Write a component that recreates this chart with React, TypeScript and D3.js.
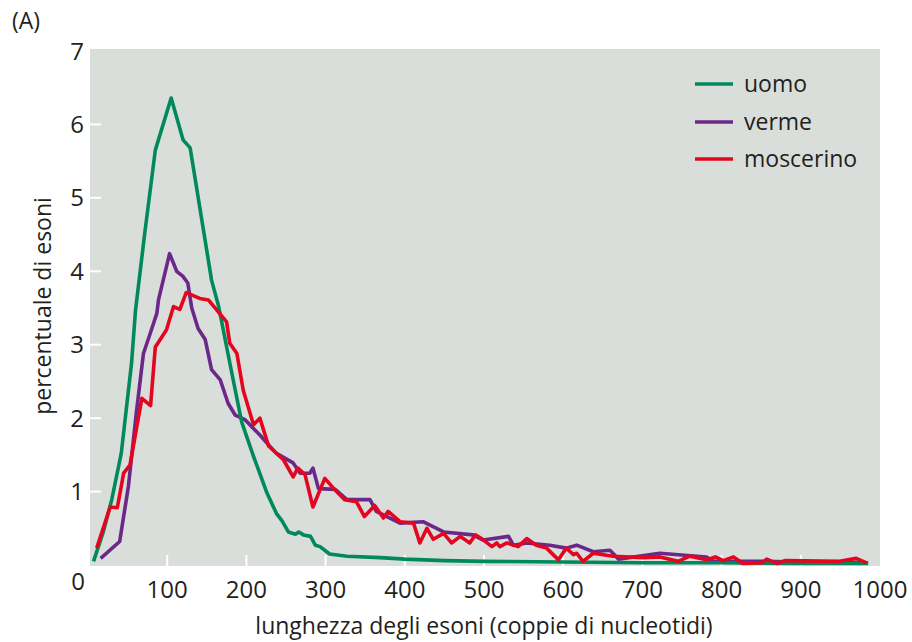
import React, { useEffect, useRef } from "react";
import * as d3 from "d3";

// exon length (bp) vs percentage of exons
const uomo: [number, number][] = [
    [7, 0.05], [19, 0.44], [30, 0.89], [42, 1.52], [55, 2.75], [60, 3.47], [72, 4.55], [85, 5.65],
    [105, 6.36], [120, 5.79], [129, 5.68], [156, 3.88], [165, 3.52], [180, 2.7], [194, 1.95],
    [209, 1.48], [226, 0.98], [238, 0.7], [245, 0.6], [253, 0.45], [262, 0.42], [266, 0.45],
    [272, 0.41], [281, 0.39], [287, 0.27], [293, 0.25], [305, 0.15], [327, 0.12], [369, 0.1],
    [400, 0.08], [450, 0.06], [500, 0.05], [600, 0.04], [700, 0.03], [800, 0.03], [900, 0.02], [985, 0.02]
];

const verme: [number, number][] = [
    [16, 0.09], [40, 0.32], [51, 1.07], [61, 2.07], [70, 2.88], [80, 3.2], [87, 3.43], [89, 3.61],
    [103, 4.24], [112, 4.0], [120, 3.93], [126, 3.84], [131, 3.5], [139, 3.22], [148, 3.07],
    [156, 2.66], [167, 2.52], [177, 2.2], [186, 2.04], [198, 1.98], [217, 1.77], [226, 1.66],
    [238, 1.52], [259, 1.39], [268, 1.25], [280, 1.25], [284, 1.32], [291, 1.04], [312, 1.03],
    [327, 0.89], [356, 0.89], [364, 0.73], [394, 0.57], [423, 0.59], [449, 0.45], [486, 0.41],
    [499, 0.34], [531, 0.39], [537, 0.27], [554, 0.3], [583, 0.27], [604, 0.23], [617, 0.27],
    [638, 0.18], [659, 0.2], [670, 0.08], [722, 0.16], [781, 0.11], [790, 0.05], [850, 0.05],
    [900, 0.04], [950, 0.04], [985, 0.03]
];

const moscerino: [number, number][] = [
    [11, 0.23], [28, 0.79], [37, 0.78], [45, 1.25], [53, 1.36], [68, 2.27], [79, 2.17], [85, 2.97],
    [99, 3.2], [108, 3.52], [116, 3.48], [124, 3.71], [141, 3.63], [152, 3.61], [175, 3.31],
    [179, 3.02], [188, 2.88], [196, 2.38], [209, 1.91], [217, 2.0], [228, 1.62], [247, 1.43],
    [259, 1.2], [265, 1.32], [274, 1.23], [284, 0.79], [299, 1.18], [312, 1.02], [324, 0.89],
    [339, 0.86], [349, 0.66], [362, 0.81], [373, 0.64], [379, 0.73], [394, 0.59], [411, 0.57],
    [419, 0.3], [428, 0.5], [436, 0.35], [449, 0.43], [459, 0.3], [470, 0.39], [482, 0.3],
    [489, 0.41], [497, 0.36], [510, 0.25], [516, 0.3], [520, 0.25], [529, 0.3], [543, 0.25],
    [554, 0.36], [566, 0.27], [579, 0.23], [594, 0.07], [604, 0.23], [613, 0.14], [617, 0.16],
    [625, 0.05], [638, 0.16], [663, 0.12], [701, 0.1], [722, 0.11], [745, 0.05], [760, 0.12],
    [781, 0.07], [792, 0.11], [802, 0.06], [815, 0.11], [827, 0.02], [851, 0.03], [857, 0.08],
    [870, 0.02], [880, 0.06], [949, 0.05], [970, 0.09], [983, 0.03]
];

const seriesNames = ["uomo", "verme", "moscerino"];
const seriesColors = ["#008a5c", "#6b2889", "#e4051e"];
const xTicks = [100, 200, 300, 400, 500, 600, 700, 800, 900, 1000];
const yTicks = [1, 2, 3, 4, 5, 6, 7];

const FONT = "'Open Sans', 'DejaVu Sans', sans-serif";

const App = () => {
    const svgRef = useRef<SVGSVGElement>(null);

    useEffect(() => {
        const width = 912;
        const height = 642;
        const plot = { left: 90, right: 880, top: 49, bottom: 566 };

        const svg = d3.select(svgRef.current);
        svg.selectAll("*").remove();
        svg.attr("width", width).attr("height", height);

        const x = d3.scaleLinear().domain([0, 1000]).range([88, 880]);
        const y = d3.scaleLinear().domain([0, 7]).range([565, 51]);

        // gray panel
        svg.append("rect")
            .attr("x", plot.left)
            .attr("y", plot.top)
            .attr("width", plot.right - plot.left)
            .attr("height", plot.bottom - plot.top)
            .attr("fill", "#d9dedb");

        // white inner ticks
        svg.append("g")
            .selectAll("line")
            .data(yTicks.filter((d) => d < 7))
            .enter()
            .append("line")
            .attr("x1", plot.left)
            .attr("x2", plot.left + 11)
            .attr("y1", (d) => y(d))
            .attr("y2", (d) => y(d))
            .attr("stroke", "#fff")
            .attr("stroke-width", 2);

        svg.append("g")
            .selectAll("line")
            .data(xTicks.filter((d) => d < 1000))
            .enter()
            .append("line")
            .attr("x1", (d) => x(d))
            .attr("x2", (d) => x(d))
            .attr("y1", plot.bottom)
            .attr("y2", plot.bottom - 11)
            .attr("stroke", "#fff")
            .attr("stroke-width", 2);

        // tick labels
        svg.append("g")
            .selectAll("text")
            .data(yTicks)
            .enter()
            .append("text")
            .attr("x", 84)
            .attr("y", (d) => y(d))
            .attr("dy", "0.36em")
            .attr("text-anchor", "end")
            .attr("font-family", FONT)
            .attr("font-size", 24)
            .attr("fill", "#231f20")
            .text((d) => d);

        svg.append("text")
            .attr("x", 85)
            .attr("y", 590)
            .attr("text-anchor", "end")
            .attr("font-family", FONT)
            .attr("font-size", 24)
            .attr("fill", "#231f20")
            .text("0");

        svg.append("g")
            .selectAll("text")
            .data(xTicks)
            .enter()
            .append("text")
            .attr("x", (d) => x(d))
            .attr("y", 598)
            .attr("text-anchor", "middle")
            .attr("font-family", FONT)
            .attr("font-size", 24)
            .attr("fill", "#231f20")
            .text((d) => d);

        // axis titles
        svg.append("text")
            .attr("x", 484)
            .attr("y", 634)
            .attr("text-anchor", "middle")
            .attr("font-family", FONT)
            .attr("font-size", 23)
            .attr("fill", "#231f20")
            .text("lunghezza degli esoni (coppie di nucleotidi)");

        svg.append("text")
            .attr("transform", "translate(51, 306) rotate(-90)")
            .attr("text-anchor", "middle")
            .attr("font-family", FONT)
            .attr("font-size", 23)
            .attr("fill", "#231f20")
            .text("percentuale di esoni");

        svg.append("text")
            .attr("x", 12)
            .attr("y", 29)
            .attr("font-family", FONT)
            .attr("font-size", 23)
            .attr("fill", "#231f20")
            .text("(A)");

        // lines
        const line = d3.line<[number, number]>()
            .x((d) => x(d[0]))
            .y((d) => y(d[1]));

        const data = [uomo, verme, moscerino];
        // purple first, then green, red on top like the figure
        [1, 0, 2].forEach((i) => {
            svg.append("path")
                .datum(data[i])
                .attr("d", line)
                .attr("fill", "none")
                .attr("stroke", seriesColors[i])
                .attr("stroke-width", 3.6)
                .attr("stroke-linejoin", "round");
        });

        // legend
        const legend = svg.append("g");
        const legendY = [84, 122, 159];
        seriesNames.forEach((name, i) => {
            legend.append("line")
                .attr("x1", 695)
                .attr("x2", 733)
                .attr("y1", legendY[i])
                .attr("y2", legendY[i])
                .attr("stroke", seriesColors[i])
                .attr("stroke-width", 3.6);
            legend.append("text")
                .attr("x", 744)
                .attr("y", legendY[i])
                .attr("dy", "0.33em")
                .attr("font-family", FONT)
                .attr("font-size", 23)
                .attr("fill", "#231f20")
                .text(name);
        });
    }, []);

    return <svg ref={svgRef} style={{ position: "absolute", left: 0, top: 0 }}></svg>;
};

export default App;
